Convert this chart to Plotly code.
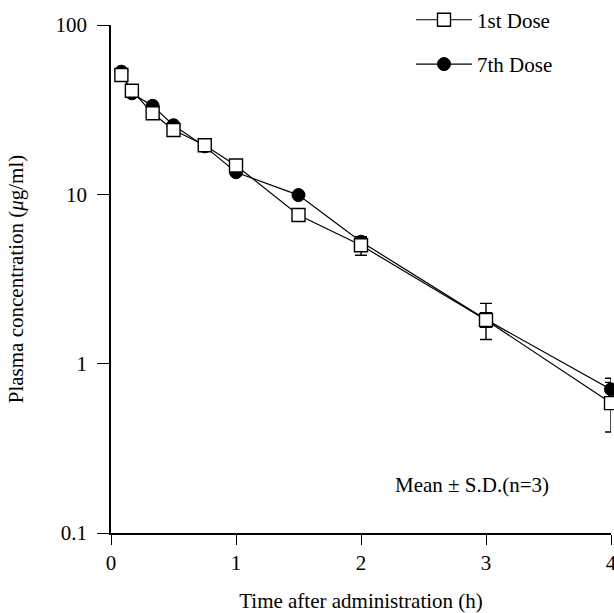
import plotly.graph_objects as go

time_h = [0.083, 0.167, 0.333, 0.5, 0.75, 1.0, 1.5, 2.0, 3.0, 4.0]
dose1_mean = [50.7, 40.9, 30.1, 24.0, 19.5, 14.8, 7.55, 5.0, 1.81, 0.585]
dose1_sd_plus = [0, 0, 0, 0, 0, 0, 0, 0.63, 0.46, 0.19]
dose1_sd_minus = [0, 0, 0, 0, 0, 0, 0, 0.63, 0.42, 0.19]
dose7_mean = [53.0, 39.5, 33.3, 25.6, 19.2, 13.5, 9.9, 5.25, 1.82, 0.705]
dose7_sd = [0, 0, 0, 0, 0, 0, 0, 0.3, 0.18, 0.115]

y_tickvals = [0.1, 1, 10, 100]
y_ticktext = ["0.1", "1", "10", "100"]
x_tickvals = [0, 1, 2, 3, 4]

FONT = "Liberation Serif"
FS = 21

fig = go.Figure()

fig.add_trace(go.Scatter(
    x=time_h, y=dose7_mean, name="7th Dose", mode="lines+markers",
    legendgroup="b", legendrank=2,
    line=dict(color="black", width=1.2),
    marker=dict(symbol="circle", size=13, color="black", line=dict(color="black", width=1)),
    error_y=dict(type="data", array=dose7_sd, symmetric=True, color="black", thickness=1.4, width=6),
    cliponaxis=False,
))
fig.add_trace(go.Scatter(
    x=time_h, y=dose1_mean, name="1st Dose", mode="lines+markers",
    legendgroup="a", legendrank=1,
    line=dict(color="black", width=1.2),
    marker=dict(symbol="square", size=13, color="white", line=dict(color="black", width=1.4)),
    error_y=dict(type="data", array=dose1_sd_plus, arrayminus=dose1_sd_minus, symmetric=False,
                 color="black", thickness=1.4, width=6),
    cliponaxis=False,
))

fig.add_annotation(
    x=2.89, y=-0.717, xref="x", yref="y",
    text="Mean ± S.D.(n=3)", showarrow=False,
    font=dict(family=FONT, size=FS, color="black"),
)

fig.update_layout(
    width=614, height=613,
    margin=dict(l=110.5, r=3, t=25, b=80, autoexpand=False),
    paper_bgcolor="white", plot_bgcolor="white",
    font=dict(family=FONT, size=FS, color="black"),
    showlegend=True,
    legend=dict(
        x=0.60, y=1.05, xanchor="left", yanchor="top",
        traceorder="grouped", tracegroupgap=14, itemwidth=56,
        font=dict(family=FONT, size=FS, color="black"),
        bgcolor="rgba(0,0,0,0)",
    ),
    xaxis=dict(
        range=[0, 4], tickvals=x_tickvals, ticks="outside", ticklen=10, tickwidth=1.3,
        tickcolor="black", showline=True, linecolor="black", linewidth=1.5,
        showgrid=False, zeroline=False, ticklabeloverflow="allow", automargin=False,
        tickfont=dict(family=FONT, size=FS, color="black"),
        title=dict(text="Time after administration (h)", font=dict(family=FONT, size=FS, color="black"), standoff=20),
    ),
    yaxis=dict(
        type="log", range=[-1, 2], tickvals=y_tickvals, ticktext=y_ticktext,
        ticks="outside", ticklen=12, tickwidth=1.3, tickcolor="black",
        showline=True, linecolor="black", linewidth=1.5, showgrid=False, zeroline=False,
        ticklabelstandoff=6, automargin=False,
        tickfont=dict(family=FONT, size=FS, color="black"),
        title=dict(text="Plasma concentration (<i>μ</i>g/ml)", font=dict(family=FONT, size=FS, color="black"), standoff=26),
    ),
)

fig.write_html("out.html")
